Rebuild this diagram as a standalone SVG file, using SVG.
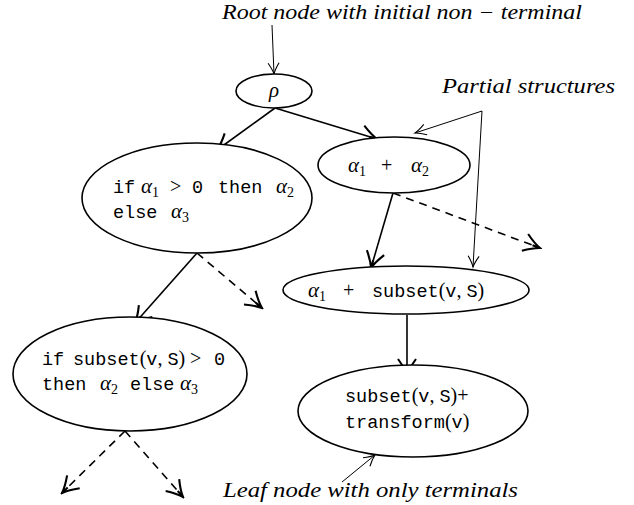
<svg xmlns="http://www.w3.org/2000/svg" width="634" height="505" viewBox="0 0 634 505">
<style>
.node{fill:#fff;stroke:#000;stroke-width:1.6}
.e{fill:none;stroke:#000;stroke-width:1.6}
.d{fill:none;stroke:#000;stroke-width:1.6;stroke-dasharray:8 6}
.t{fill:none;stroke:#000;stroke-width:1}
.lab{font-family:"Liberation Serif",serif;font-style:italic;font-size:20px;fill:#000}
.m{font-family:"Liberation Mono","DejaVu Sans Mono",monospace;font-size:18.5px;fill:#000}
.mi{font-family:"Liberation Serif",serif;font-style:italic;font-size:21px}
.r{font-family:"Liberation Serif",serif;font-style:normal;font-size:20px}
.sub{font-family:"Liberation Serif",serif;font-style:normal;font-size:14px}
</style>
<defs>
<marker id="ah" markerUnits="userSpaceOnUse" viewBox="-20 -12 22 24" markerWidth="22" markerHeight="24" refX="0" refY="0" orient="auto">
<path d="M-16,-9 Q-7,-2.5 0,0 Q-7,2.5 -16,9 M-8,0 L0,0" fill="none" stroke="#000" stroke-width="2.1"/>
</marker>
<marker id="ahs" markerUnits="userSpaceOnUse" viewBox="-14 -8 16 16" markerWidth="16" markerHeight="16" refX="0" refY="0" orient="auto">
<path d="M-11,-5.5 Q-4.5,-1.3 0,0 Q-4.5,1.3 -11,5.5" fill="none" stroke="#000" stroke-width="1.1"/>
</marker>
</defs>

<g id="connectors">
<path class="t" d="M272,25 L274,74" marker-end="url(#ahs)"/>
<path class="e" d="M275,108 L217,150" marker-end="url(#ah)"/>
<path class="e" d="M275,108 L377,139" marker-end="url(#ah)"/>
<path class="t" d="M482,111 L415,133" marker-end="url(#ahs)"/>
<path class="t" d="M482,111 L473,267" marker-end="url(#ahs)"/>
<path class="e" d="M393,193 L371,268" marker-end="url(#ah)"/>
<path class="d" d="M393,193 L540,248" marker-end="url(#ah)"/>
<path class="e" d="M197,253 L135,323" marker-end="url(#ah)"/>
<path class="d" d="M197,253 L262,308" marker-end="url(#ah)"/>
<path class="e" d="M407,315 L407,375" marker-end="url(#ah)"/>
<path class="d" d="M125,431 L62,493" marker-end="url(#ah)"/>
<path class="d" d="M125,431 L183,497" marker-end="url(#ah)"/>
<path class="t" d="M342,482 L375,455" marker-end="url(#ahs)"/>
</g>

<g id="label-root"><text class="lab" x="222" y="19" textLength="360" lengthAdjust="spacingAndGlyphs">Root node with initial non − terminal</text></g>
<g id="label-partial"><text class="lab" x="442" y="93" textLength="173" lengthAdjust="spacingAndGlyphs">Partial structures</text></g>
<g id="label-leaf"><text class="lab" x="223" y="497" textLength="295" lengthAdjust="spacingAndGlyphs">Leaf node with only terminals</text></g>

<g id="root">
<ellipse class="node" cx="274" cy="91" rx="38" ry="17"/>
<text class="mi" x="274" y="97" text-anchor="middle">ρ</text>
</g>

<g id="n-if1">
<ellipse class="node" cx="197" cy="198" rx="115" ry="55"/>
<text class="m" y="193"><tspan x="113">if</tspan><tspan class="mi" x="141">α</tspan><tspan class="sub" dy="4">1</tspan><tspan class="r" x="170" dy="-4">&gt;</tspan><tspan x="192">0</tspan><tspan x="218">then</tspan><tspan class="mi" x="276">α</tspan><tspan class="sub" dy="4">2</tspan></text>
<text class="m" y="218"><tspan x="113">else</tspan><tspan class="mi" x="171">α</tspan><tspan class="sub" dy="4">3</tspan></text>
</g>

<g id="n-sum">
<ellipse class="node" cx="394" cy="165" rx="76" ry="28"/>
<text class="m" y="172"><tspan class="mi" x="348">α</tspan><tspan class="sub" dy="4">1</tspan><tspan class="r" x="381" dy="-4">+</tspan><tspan class="mi" x="411">α</tspan><tspan class="sub" dy="4">2</tspan></text>
</g>

<g id="n-subset">
<ellipse class="node" cx="406" cy="290" rx="123" ry="24"/>
<text class="m" y="297"><tspan class="mi" x="308">α</tspan><tspan class="sub" dy="4">1</tspan><tspan class="r" x="343" dy="-4">+</tspan><tspan x="372">subset</tspan><tspan class="r">(</tspan><tspan>v</tspan><tspan class="r">, </tspan><tspan>S</tspan><tspan class="r">)</tspan></text>
</g>

<g id="n-if2">
<ellipse class="node" cx="130" cy="374" rx="117" ry="57"/>
<text class="m" y="365"><tspan x="42">if</tspan><tspan x="73">subset</tspan><tspan class="r">(</tspan><tspan>v</tspan><tspan class="r">, </tspan><tspan>S</tspan><tspan class="r">)</tspan><tspan class="r" x="190">&gt;</tspan><tspan x="214">0</tspan></text>
<text class="m" y="390"><tspan x="42">then</tspan><tspan class="mi" x="100">α</tspan><tspan class="sub" dy="4">2</tspan><tspan x="130" dy="-4">else</tspan><tspan class="mi" x="180">α</tspan><tspan class="sub" dy="4">3</tspan></text>
</g>

<g id="n-leaf">
<ellipse class="node" cx="413" cy="411" rx="115" ry="46"/>
<text class="m" y="402"><tspan x="345">subset</tspan><tspan class="r">(</tspan><tspan>v</tspan><tspan class="r">, </tspan><tspan>S</tspan><tspan class="r">)+</tspan></text>
<text class="m" y="428"><tspan x="345">transform</tspan><tspan class="r">(</tspan><tspan>v</tspan><tspan class="r">)</tspan></text>
</g>
</svg>
